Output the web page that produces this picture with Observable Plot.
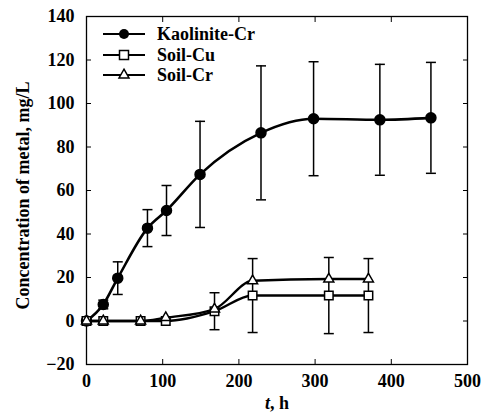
<!DOCTYPE html>
<html><head><meta charset="utf-8">
<script src="https://cdn.jsdelivr.net/npm/d3@7"></script>
<script src="https://cdn.jsdelivr.net/npm/@observablehq/plot@0.6"></script>
<style>
body{margin:0;background:#fff;}
#wrap{position:relative;width:492px;height:414px;}
svg{font-family:"Liberation Serif","Times New Roman",serif;}
</style></head><body><div id="wrap"></div>
<script>
// ---- data ----
const kaolTime = [0, 22, 41, 80, 105, 149, 229, 298, 385, 452];
const kaolConc = [0, 7.6, 19.7, 42.7, 50.8, 67.4, 86.5, 93, 92.5, 93.4];
const kaolErr  = [0, 2, 7.5, 8.5, 11.5, 24.4, 30.8, 26.2, 25.5, 25.5];

const soilTime = [0, 22, 71, 104, 168, 218, 318, 370];
const soilCu   = [0, 0, 0, 0, 4.5, 11.7, 11.7, 11.7];
const soilCuErr= [0, 0, 0, 0, 8.5, 17, 17.5, 17];
const soilCr   = [0, 0, 0, 1.5, 5.5, 18.5, 19.3, 19.3];

const xTicks = [0, 100, 200, 300, 400, 500];
const yTicks = [-20, 0, 20, 40, 60, 80, 100, 120, 140];
const seriesNames = ["Kaolinite-Cr", "Soil-Cu", "Soil-Cr"];
const yLabel = "Concentration of metal, mg/L";

// ---- tables ----
const kaol = kaolTime.map((t, i) => ({t, c: kaolConc[i], e: kaolErr[i]}));
const cu = soilTime.map((t, i) => ({t, c: soilCu[i], e: soilCuErr[i]}));
const cr = soilTime.map((t, i) => ({t, c: soilCr[i]}));
const kaolE = kaol.filter(d => d.e > 0);
const cuE = cu.filter(d => d.e > 0);

const capSymbol = {draw(ctx, size) {const w = Math.sqrt(size / Math.PI); ctx.moveTo(-w, 0); ctx.lineTo(w, 0);}};

function errMarks(data) {
  return [
    Plot.ruleX(data, {x: "t", y1: d => d.c - d.e, y2: d => d.c + d.e, stroke: "#000", strokeWidth: 1.5}),
    Plot.dot(data, {x: "t", y: d => d.c + d.e, symbol: capSymbol, r: 5, stroke: "#000", strokeWidth: 1.5}),
    Plot.dot(data, {x: "t", y: d => d.c - d.e, symbol: capSymbol, r: 5, stroke: "#000", strokeWidth: 1.5})
  ];
}

const svg = Plot.plot({
  width: 492, height: 414,
  marginLeft: 86, marginRight: 25, marginTop: 16, marginBottom: 50,
  style: {fontFamily: "Liberation Serif, serif", fontSize: "18px", color: "#000", background: "#fff"},
  x: {domain: [0, 500]},
  y: {domain: [-20, 140]},
  marks: [
    Plot.frame({stroke: "#000", strokeWidth: 1.3}),
    Plot.axisX({anchor: "bottom", ticks: xTicks, tickSize: -5, tickPadding: 15, label: null, fontWeight: "bold", fontSize: 18}),
    Plot.axisX({anchor: "top", ticks: xTicks, tickSize: -5, tickFormat: () => "", label: null}),
    Plot.axisY({anchor: "left", ticks: yTicks, tickSize: -5, tickPadding: 17, label: null, fontWeight: "bold", fontSize: 18}),
    Plot.axisY({anchor: "right", ticks: yTicks, tickSize: -5, tickFormat: () => "", label: null}),
    ...errMarks(kaolE),
    ...errMarks(cuE),
    Plot.line(kaol, {x: "t", y: "c", curve: "monotone-x", stroke: "#000", strokeWidth: 2.6}),
    Plot.dot(kaol, {x: "t", y: "c", r: 5, fill: "#000", stroke: "#000"}),
    Plot.line(cu, {x: "t", y: "c", curve: "monotone-x", stroke: "#000", strokeWidth: 2.4}),
    Plot.line(cr, {x: "t", y: "c", curve: "monotone-x", stroke: "#000", strokeWidth: 2.4}),
    Plot.dot(cu, {x: "t", y: "c", symbol: "square", r: 4.8, fill: "#fff", stroke: "#000", strokeWidth: 1.5}),
    Plot.dot(cr, {x: "t", y: "c", symbol: "triangle", r: 3.7, fill: "#fff", stroke: "#000", strokeWidth: 1.5}),
    Plot.text([yLabel], {frameAnchor: "left", rotate: -90, dx: -63, dy: 5, textAnchor: "middle", lineAnchor: "middle", text: d => d, fontSize: 18, fontWeight: "bold", fill: "#000"}),
    Plot.text(["t, h"], {frameAnchor: "bottom", dy: 39, textAnchor: "middle", lineAnchor: "middle", text: d => d, fontSize: 18, fontWeight: "bold", fill: "#000"})
  ]
});

const sel = d3.select(svg);
// italic t in the x label
sel.selectAll("text").each(function() {
  const t = d3.select(this);
  if (this.textContent === "t, h") {
    t.text(null);
    t.append("tspan").attr("font-style", "italic").text("t");
    t.append("tspan").text(", h");
  }
});

// legend
const lg = sel.append("g").attr("transform", "translate(103,0)").attr("text-anchor", "start");
const rows = [34, 55, 75];
seriesNames.forEach((name, i) => {
  const g = lg.append("g").attr("transform", `translate(0,${rows[i]})`);
  g.append("line").attr("x1", 0).attr("x2", 42).attr("stroke", "#000").attr("stroke-width", 2);
  if (i === 0) g.append("circle").attr("cx", 21).attr("r", 5).attr("fill", "#000");
  if (i === 1) g.append("rect").attr("x", 16.5).attr("y", -4.5).attr("width", 9).attr("height", 9).attr("fill", "#fff").attr("stroke", "#000").attr("stroke-width", 1.5);
  if (i === 2) g.append("path").attr("d", d3.symbol(d3.symbolTriangle, 43)()).attr("transform", "translate(21,0)").attr("fill", "#fff").attr("stroke", "#000").attr("stroke-width", 1.5);
  g.append("text").attr("x", 54).attr("dy", "0.35em").attr("font-size", 18).attr("font-weight", "bold").attr("fill", "#000").attr("text-anchor", "start").text(name);
});

document.getElementById("wrap").appendChild(svg);
</script>
</body></html>
